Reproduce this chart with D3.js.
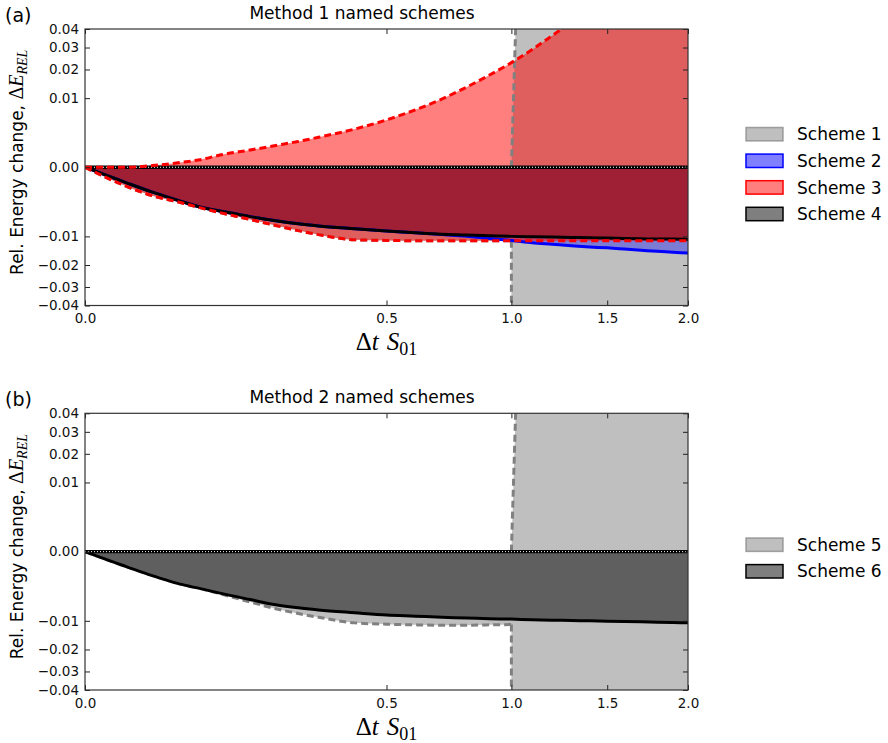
<!DOCTYPE html>
<html lang="en">
<head>
<meta charset="UTF-8">
<title>Energy change</title>
<script src="https://d3js.org/d3.v7.min.js"></script>
<style>
  body { margin: 0; background: #fff; }
</style>
</head>
<body>
<script>
var width = 888, height = 743;

// time step (Δt S01) shared by all schemes
var dt = [0, 0.01, 0.025, 0.05, 0.075, 0.1, 0.15, 0.2, 0.25, 0.3, 0.4, 0.5, 0.6, 0.7, 0.8, 0.9, 1.0,
          1.1, 1.2, 1.3, 1.4, 1.5, 1.6, 1.7, 1.8, 1.9, 2.0];

// Method 1 schemes (min / max rel. energy change); 1 and 5 only stable up to dt = 1.0
var scheme1Min = [0, -0.0008, -0.0017, -0.0026, -0.0035, -0.0043, -0.0057, -0.0071, -0.0084, -0.0095, -0.0110,
                  -0.0112, -0.0113, -0.0113, -0.0113, -0.0113, -0.0113];
var scheme2Min = [0, -0.00054, -0.0013, -0.0024, -0.0034, -0.0040, -0.0051, -0.0060, -0.0067, -0.0072, -0.0079,
                  -0.0085, -0.0090, -0.0095, -0.0100, -0.0106, -0.0112, -0.0119, -0.0124, -0.0129, -0.0133,
                  -0.0136, -0.0140, -0.0144, -0.0148, -0.0151, -0.0154];
var scheme3Max = [0, 0, 0.000006, 0.000047, 0.00013, 0.00031, 0.00062, 0.00099, 0.00139, 0.00188, 0.00305,
                  0.00468, 0.00689, 0.00973, 0.0134, 0.0178, 0.0229, 0.0290, 0.0362, 0.044, 0.053,
                  0.063, 0.074, 0.086, 0.099, 0.113, 0.128];
var scheme3Min = [0, -0.0008, -0.0017, -0.0026, -0.0035, -0.0043, -0.0057, -0.0071, -0.0084, -0.0095, -0.0110,
                  -0.0112, -0.0113, -0.0113, -0.0113, -0.0113, -0.0113, -0.0113, -0.0113, -0.0113, -0.0113,
                  -0.0113, -0.0113, -0.0113, -0.0113, -0.0113, -0.0113];
var scheme4Min = [0, -0.00054, -0.0013, -0.0024, -0.0034, -0.0040, -0.0051, -0.0060, -0.0067, -0.0072, -0.0079,
                  -0.0085, -0.0090, -0.0094, -0.0096, -0.0098, -0.0100, -0.0101, -0.0102, -0.0103, -0.0104,
                  -0.0105, -0.0106, -0.0107, -0.0108, -0.0108, -0.0109];

// Method 2 schemes
var scheme5Min = [0, -0.0005, -0.0012, -0.0022, -0.0029, -0.0037, -0.0053, -0.0068, -0.0080, -0.0090, -0.0106,
                  -0.0110, -0.0112, -0.0113, -0.0113, -0.0112, -0.0111];
var scheme6Min = [0, -0.0005, -0.0012, -0.0022, -0.0029, -0.0036, -0.0048, -0.0059, -0.0066, -0.0071, -0.0078,
                  -0.0084, -0.0087, -0.0090, -0.0092, -0.0094, -0.0095, -0.0097, -0.0098, -0.0099, -0.0100,
                  -0.0101, -0.0102, -0.0103, -0.0104, -0.0105, -0.0106];

// unstable schemes blow up just past dt = 1 (bottom edge, top edge)
var blowupDt = [1.0, 1.02];

var xTicks = [0, 0.5, 1.0, 1.5, 2.0];
var yTicks = [-0.04, -0.03, -0.02, -0.01, 0, 0.01, 0.02, 0.03, 0.04];

function pts(vals) { return vals.map(function (v, i) { return [dt[i], v]; }); }

var sans = '"DejaVu Sans", sans-serif', serif = '"Liberation Serif", serif';
var svg = d3.select('body').append('svg').attr('width', width).attr('height', height)
  .style('font-family', sans);

var panels = [
  { tag: '(a)', title: 'Method 1 named schemes', top: 29, bottom: 305.5,
    fills: [
      { min: scheme1Min, color: 'grey', alpha: 0.5, unstable: true },
      { min: scheme2Min, color: 'blue', alpha: 0.35 },
      { min: scheme4Min, color: 'black', alpha: 0.5 },
      { min: scheme3Min, max: scheme3Max, color: 'red', alpha: 0.5 }
    ],
    lines: [
      { vals: scheme1Min, color: 'grey', dash: '7,4', unstable: true },
      { vals: scheme2Min, color: 'blue' },
      { vals: scheme4Min, color: 'black' },
      { zero: true },
      { vals: scheme3Max, color: 'red', dash: '7,4' },
      { vals: scheme3Min, color: 'red', dash: '7,4' }
    ],
    legend: [
      { name: 'Scheme 1', color: 'grey' }, { name: 'Scheme 2', color: 'blue' },
      { name: 'Scheme 3', color: 'red' }, { name: 'Scheme 4', color: 'black' }
    ], legendTop: 127.5 },
  { tag: '(b)', title: 'Method 2 named schemes', top: 413.3, bottom: 690,
    fills: [
      { min: scheme5Min, color: 'grey', alpha: 0.5, unstable: true },
      { min: scheme6Min, color: 'black', alpha: 0.5 }
    ],
    lines: [
      { vals: scheme5Min, color: 'grey', dash: '7,4', unstable: true },
      { vals: scheme6Min, color: 'black' },
      { zero: true }
    ],
    legend: [ { name: 'Scheme 5', color: 'grey' }, { name: 'Scheme 6', color: 'black' } ],
    legendTop: 538 }
];

panels.forEach(function (p, k) {
  var left = 85, right = 688;
  var x = d3.scaleSqrt().domain([0, 2]).range([left, right]);
  var y = d3.scaleSqrt().domain([-0.04, 0.04]).range([p.bottom, p.top]);
  var g = svg.append('g');

  var clipId = 'clip' + k;
  g.append('clipPath').attr('id', clipId).append('rect')
    .attr('x', left).attr('y', p.top).attr('width', right - left).attr('height', p.bottom - p.top);
  var plot = g.append('g').attr('clip-path', 'url(#' + clipId + ')');

  var curve = d3.curveMonotoneX;
  var lineLin = d3.line().x(function (d) { return x(d[0]); }).y(function (d) { return y(d[1]); });

  // filled bands
  p.fills.forEach(function (f) {
    var data = f.min.map(function (v, i) { return [dt[i], v, f.max ? f.max[i] : 0]; });
    var area = d3.area().curve(curve)
      .x(function (d) { return x(d[0]); })
      .y0(function (d) { return y(d[2]); })
      .y1(function (d) { return y(d[1]); });
    var path = area(data);
    if (f.unstable) {
      var ylo = y.domain()[0], yhi = y.domain()[1];
      path += lineLin([[blowupDt[0], 0], [blowupDt[1], yhi], [2, yhi], [2, ylo], [blowupDt[0], ylo]]) + 'Z';
    }
    plot.append('path').attr('d', path).attr('fill', f.color).attr('fill-opacity', f.alpha);
  });

  // curves
  p.lines.forEach(function (l) {
    if (l.zero) {
      var z = [[0, 0], [2, 0]];
      plot.append('path').attr('d', lineLin(z)).attr('stroke', 'black').attr('stroke-width', 3.4).attr('fill', 'none');
      plot.append('path').attr('d', lineLin(z)).attr('stroke', 'white').attr('stroke-width', 1)
        .attr('stroke-dasharray', '1,2').attr('fill', 'none');
      return;
    }
    var line = d3.line().curve(curve).x(function (d) { return x(d[0]); }).y(function (d) { return y(d[1]); });
    var s = plot.append('path').attr('d', line(pts(l.vals)))
      .attr('stroke', l.color).attr('stroke-width', 3).attr('fill', 'none');
    if (l.dash) s.attr('stroke-dasharray', l.dash);
    if (l.unstable) {
      var last = l.vals[l.vals.length - 1];
      [[[blowupDt[0], last], [blowupDt[0], y.domain()[0]]],
       [[blowupDt[0], 0], [blowupDt[1], y.domain()[1]]]].forEach(function (seg) {
        plot.append('path').attr('d', lineLin(seg)).attr('stroke', l.color).attr('stroke-width', 3)
          .attr('fill', 'none').attr('stroke-dasharray', l.dash);
      });
    }
  });

  // axes with inward ticks
  var fmtY = d3.format('.2f'), fmtX = d3.format('.1f');
  g.append('g').attr('transform', 'translate(0,' + p.bottom + ')')
    .call(d3.axisBottom(x).tickValues(xTicks).tickSize(-5).tickPadding(8).tickFormat(fmtX));
  g.append('g').attr('transform', 'translate(' + left + ',0)')
    .call(d3.axisLeft(y).tickValues(yTicks).tickSize(-5).tickPadding(6).tickFormat(fmtY));
  g.append('g').attr('transform', 'translate(0,' + p.top + ')')
    .call(d3.axisTop(x).tickValues(xTicks).tickSize(-5).tickFormat(''));
  g.append('g').attr('transform', 'translate(' + right + ',0)')
    .call(d3.axisRight(y).tickValues(yTicks).tickSize(-5).tickFormat(''));
  g.selectAll('.domain').remove();
  g.selectAll('.tick line').attr('stroke', '#222');
  g.selectAll('.tick text').style('font-family', sans).attr('font-size', 13.5).attr('fill', '#111');

  g.append('rect').attr('x', left).attr('y', p.top).attr('width', right - left).attr('height', p.bottom - p.top)
    .attr('fill', 'none').attr('stroke', '#333').attr('stroke-width', 1.2);

  // titles and labels
  g.append('text').attr('x', 5).attr('y', p.top - 7.5).attr('font-size', 19).text(p.tag);
  g.append('text').attr('x', 362).attr('y', p.top - 10.3).attr('text-anchor', 'middle').attr('font-size', 17).text(p.title);

  var xl = g.append('text').attr('x', (left + right) / 2).attr('y', p.bottom + 44.5)
    .attr('text-anchor', 'middle').style('font-family', serif).attr('font-size', 25);
  xl.append('tspan').text('Δ');
  xl.append('tspan').attr('font-style', 'italic').text('t');
  xl.append('tspan').attr('dx', 8).attr('font-style', 'italic').text('S');
  xl.append('tspan').attr('font-size', 18).attr('dy', 5).text('01');

  var cy = (p.top + p.bottom) / 2 - 5;
  var yl = g.append('text').attr('transform', 'translate(23,' + cy + ') rotate(-90)')
    .attr('text-anchor', 'middle').attr('font-size', 17);
  yl.append('tspan').text('Rel. Energy change, ');
  yl.append('tspan').style('font-family', serif).attr('font-size', 20).text('Δ');
  yl.append('tspan').style('font-family', serif).attr('font-style', 'italic').attr('font-size', 20).text('E');
  yl.append('tspan').style('font-family', serif).attr('font-style', 'italic').attr('font-size', 14)
    .attr('dy', 4).text('REL');

  // legend
  var lg = g.append('g');
  p.legend.forEach(function (d, i) {
    var ly = p.legendTop + i * 26.6;
    lg.append('rect').attr('x', 746).attr('y', ly).attr('width', 37).attr('height', 13.4)
      .attr('fill', d.color).attr('fill-opacity', 0.5)
      .attr('stroke', d.color).attr('stroke-width', 1.5).attr('stroke-opacity', d.color === 'grey' ? 0.7 : 1);
    lg.append('text').attr('x', 797).attr('y', ly + 12.8).attr('font-size', 17).text(d.name);
  });
});
</script>
</body>
</html>
